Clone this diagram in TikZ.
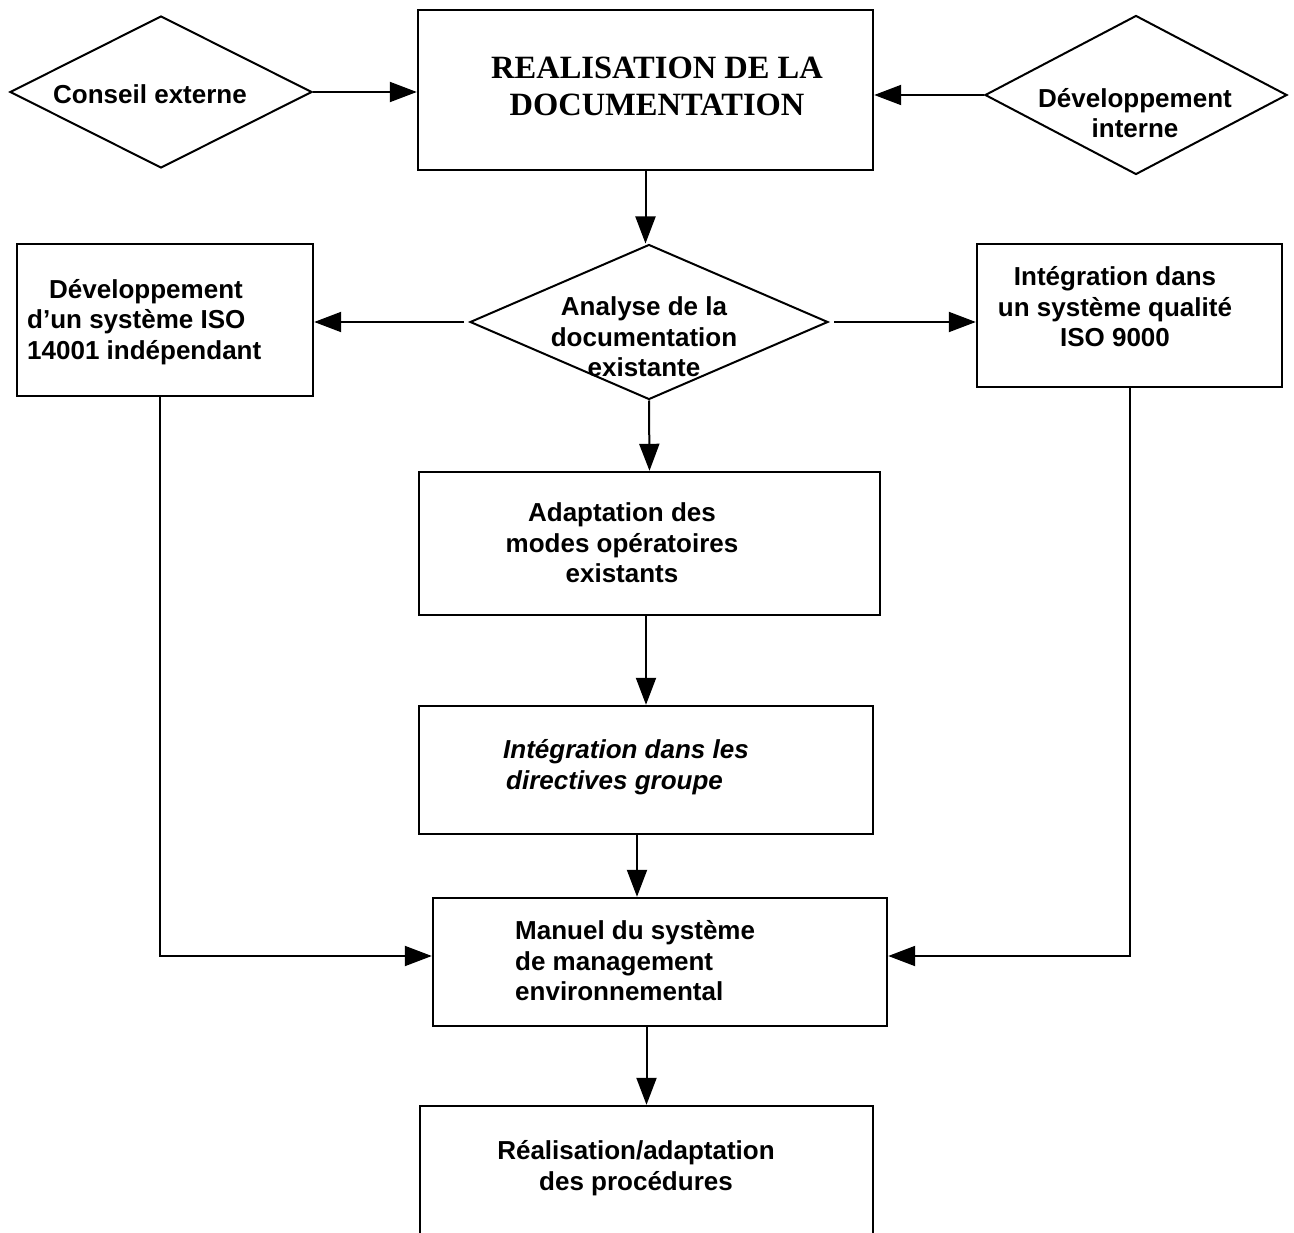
\documentclass[tikz,border=0pt]{standalone}
\usepackage{fontspec}
\setmainfont{Liberation Serif}
\newfontfamily\arialf{Liberation Sans}
\usetikzlibrary{shapes.geometric,arrows.meta,calc}
\begin{document}
\begin{tikzpicture}[x=1pt,y=-1pt,
  bx/.style={draw,rectangle,line width=2.4pt,inner sep=0pt},
  dia/.style={draw,diamond,line width=2pt,inner sep=0pt},
  conn/.style={line width=2pt,-{Triangle[length=27pt,width=20pt]}},
  plain/.style={line width=2pt},
  lbl/.style={font=\arialf\bfseries\fontsize{26}{30.5}\selectfont,inner sep=0pt,align=center},
  lbll/.style={font=\arialf\bfseries\fontsize{26}{30.5}\selectfont,inner sep=0pt,align=left,anchor=west},
  serif/.style={font=\bfseries\fontsize{32.5}{37}\selectfont,inner sep=0pt,align=center}]
\useasboundingbox (0,0) rectangle (1294,1233);
\fill[white] (0,0) rectangle (1294,1233);

% shapes
\node[dia,minimum width=302pt,minimum height=152pt] (cons) at (161,92) {};
\node[bx,minimum width=455pt,minimum height=160pt] (top) at (645.5,90) {};
\node[dia,minimum width=302pt,minimum height=159pt] (dint) at (1136,95) {};
\node[dia,minimum width=358pt,minimum height=155pt] (ana) at (649,322) {};
\node[bx,minimum width=296pt,minimum height=152pt] (lbox) at (165,320) {};
\node[bx,minimum width=305pt,minimum height=143pt] (rbox) at (1129.5,315.5) {};
\node[bx,minimum width=461pt,minimum height=143pt] (adapt) at (649.5,543.5) {};
\node[bx,minimum width=454pt,minimum height=128pt] (integ) at (646,770) {};
\node[bx,minimum width=454pt,minimum height=128pt] (manuel) at (660,962) {};
\begin{scope}
\clip (0,0) rectangle (1294,1233);
\node[bx,minimum width=453pt,minimum height=154pt] (real) at (646.5,1183) {};
\end{scope}

% texts
\node[lbl] (tcons) at (150,94) {Conseil externe};
\node[serif] (ttop) at (657,86) {REALISATION DE LA\\DOCUMENTATION};
\node[lbl] (tdint) at (1135,113) {Développement\\interne};
\node[lbl] (tana) at (644,337) {Analyse de la\\documentation\\existante};
\node[lbll] (tlbox) at (27,322) {\hspace*{22pt}Développement\\d’un système ISO\\14001 indépendant};
\node[lbl] (trbox) at (1115,307) {Intégration dans\\un système qualité\\ISO 9000};
\node[lbl] (tadapt) at (622,543) {Adaptation des\\modes opératoires\\existants};
\node[lbll,font=\arialf\bfseries\itshape\fontsize{26}{30.5}\selectfont] (tinteg) at (503,767) {Intégration dans les\\\hspace*{3pt}directives groupe};
\node[lbll] (tman) at (515,961) {Manuel du système\\de management\\environnemental};
\node[lbl] (treal) at (636,1168) {Réalisation/adaptation\\des procédures};

% connectors
\draw[conn] (cons.east) -- (cons.east -| top.west);
\draw[conn] (dint.west) -- (dint.west -| top.east);
\draw[conn] (top.south) -- (top.south |- ana.north);
\draw[conn] ([xshift=-5pt]ana.west) -- (ana.west -| lbox.east);
\draw[conn] ([xshift=5pt]ana.east) -- (ana.east -| rbox.west);
\draw[conn] (ana.south) -- (adapt.north);
\draw[conn] (integ.north |- adapt.south) -- (integ.north);
\draw[conn] ([xshift=-9pt]integ.south) -- ([xshift=-9pt]integ.south |- manuel.north);
\draw[conn] (real.north |- manuel.south) -- (real.north);
\draw[conn] ([xshift=-5pt]lbox.south) |- ([yshift=6pt]manuel.west);
\draw[conn] (rbox.south) |- ([yshift=6pt]manuel.east);
\end{tikzpicture}
\end{document}
